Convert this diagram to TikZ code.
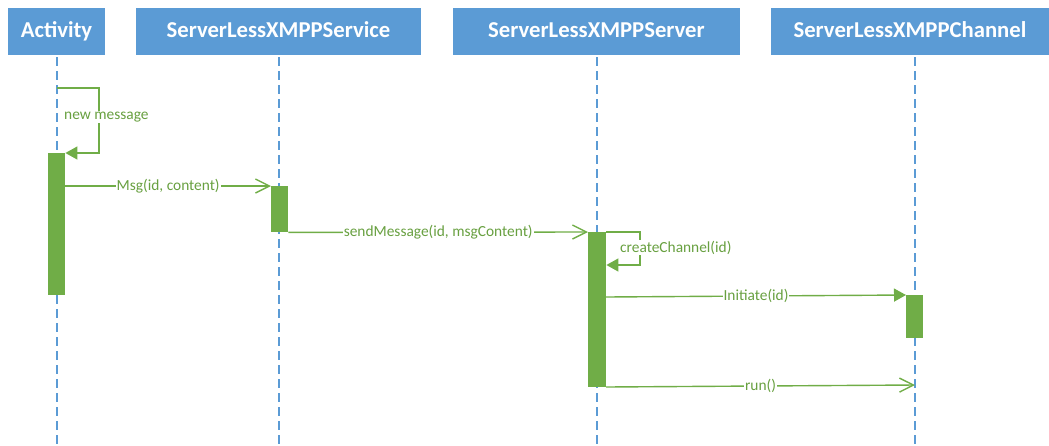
\documentclass[tikz,border=0pt]{standalone}
\usepackage{fontspec}
\setmainfont{Carlito}
\usetikzlibrary{arrows.meta}
\definecolor{hdrblue}{HTML}{5B9BD5}
\definecolor{actgreen}{HTML}{70AD47}
\definecolor{lblgreen}{HTML}{68A040}
\begin{document}
\begin{tikzpicture}[x=1pt,y=-1pt,
  header/.style={fill=hdrblue, draw=none, text=white, font=\fontsize{22.7}{24}\selectfont\bfseries,
    minimum height=47pt, inner sep=0pt, text height=15pt, text depth=3pt},
  lifeline/.style={draw=hdrblue, line width=1.3pt, dash pattern=on 9pt off 5pt},
  actbar/.style={fill=actgreen, draw=none, inner sep=0pt, anchor=north west},
  msg/.style={draw=actgreen, line width=1.4pt, -{Straight Barb[length=14pt,width=14pt,line width=1.4pt]}},
  call/.style={draw=actgreen, line width=1.4pt, -{Triangle[length=12pt,width=13pt]}},
  lbl/.style={fill=white, text=lblgreen, font=\fontsize{15.4}{17}\selectfont, inner sep=1pt}]
\useasboundingbox (0,0) rectangle (1049,445);

% participants
\node[header, minimum width=97pt]  (hA) at (56.5,31.5) {Activity};
\node[header, minimum width=285pt] (hB) at (278.5,31.5) {ServerLessXMPPService};
\node[header, minimum width=287pt] (hC) at (596.5,31.5) {ServerLessXMPPServer};
\node[header, minimum width=278pt] (hD) at (910,31.5) {ServerLessXMPPChannel};

% lifelines
\coordinate (topA) at (57,57);   \coordinate (botA) at (57,445);
\coordinate (topB) at (279,57);  \coordinate (botB) at (279,445);
\coordinate (topC) at (597,57);  \coordinate (botC) at (597,445);
\coordinate (topD) at (915,57);  \coordinate (botD) at (915,445);
\foreach \p in {A,B,C,D} \draw[lifeline] (top\p) -- (bot\p);

% activation bars
\node[actbar, minimum width=17pt, minimum height=142pt] (actA) at (48,153) {};
\node[actbar, minimum width=17pt, minimum height=46pt]  (actB) at (271,186) {};
\node[actbar, minimum width=18pt, minimum height=155pt] (actC) at (588,232) {};
\node[actbar, minimum width=17pt, minimum height=43pt]  (actD) at (906,295) {};

% self call on Activity
\coordinate (loopA) at (57,88);
\draw[call] (loopA) -- (99,88) -- (99,153) -- (actA.north east);
\node[lbl, anchor=west] (lnew) at (63,117) {new message};

% Msg(id, content)
\draw[msg] (actA.east |- actB.north) -- node[lbl] {Msg(id, content)} (actB.north west);

% sendMessage(id, msgContent)
\draw[msg] (actB.south east) -- node[lbl] {sendMessage(id, msgContent)} (actC.north west);

% self call on Server
\draw[call] (actC.north east) -- (640,232) -- (640,265) -- (actC.east |- 0,265);
\node[lbl, anchor=west] (lcreate) at (619,247.5) {createChannel(id)};

% Initiate(id)
\coordinate (iniStart) at (606,297);
\draw[call] (iniStart) -- node[lbl] {Initiate(id)} (actD.north west);

% run()
\coordinate (runStart) at (606,387);
\coordinate (runEnd) at (915,385);
\draw[msg] (runStart) -- node[lbl] {run()} (runEnd);
\end{tikzpicture}
\end{document}
